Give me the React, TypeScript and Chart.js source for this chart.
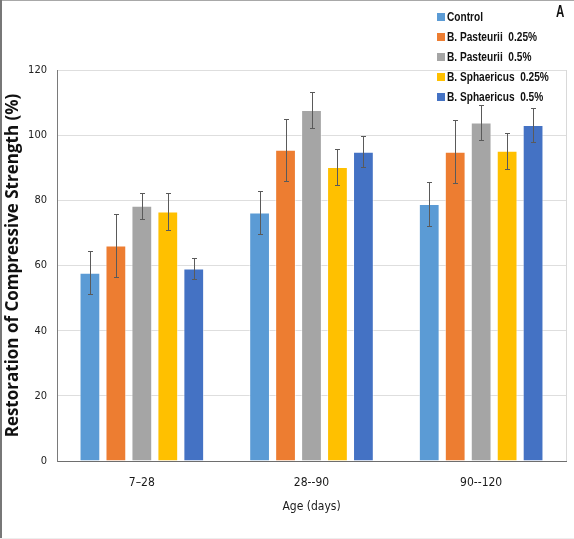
import React, { useEffect, useRef } from "react";
import { Chart, registerables } from "chart.js";

Chart.register(...registerables);

const categories = ["7–28", "28--90", "90--120"];
const seriesNames = [
  "Control",
  "B. Pasteurii  0.25%",
  "B. Pasteurii  0.5%",
  "B. Sphaericus  0.25%",
  "B. Sphaericus  0.5%",
];
const seriesColors = ["#5B9BD5", "#ED7D31", "#A5A5A5", "#FFC000", "#4472C4"];

const controlValues = [57.8, 76.3, 78.9];
const pasteurii025Values = [66.1, 95.5, 94.9];
const pasteurii05Values = [78.3, 107.7, 103.9];
const sphaericus025Values = [76.6, 90.2, 95.2];
const sphaericus05Values = [59.1, 94.9, 103.1];

const controlErrors = [6.6, 6.7, 6.7];
const pasteurii025Errors = [9.7, 9.6, 9.7];
const pasteurii05Errors = [4.0, 5.4, 5.3];
const sphaericus025Errors = [5.6, 5.6, 5.6];
const sphaericus05Errors = [3.1, 4.8, 5.1];

const yTicks = [0, 20, 40, 60, 80, 100, 120];
const yTitle = "Restoration of Compressive Strength (%)";
const xTitle = "Age (days)";
const panelLabel = "A";

const allValues = [
  controlValues,
  pasteurii025Values,
  pasteurii05Values,
  sphaericus025Values,
  sphaericus05Values,
];
const allErrors = [
  controlErrors,
  pasteurii025Errors,
  pasteurii05Errors,
  sphaericus025Errors,
  sphaericus05Errors,
];

const narrow = '"DejaVu Sans Condensed", "DejaVu Sans", sans-serif';

const errorBarPlugin = {
  id: "errorBars",
  afterDatasetsDraw(chart: any) {
    const ctx = chart.ctx;
    const yScale = chart.scales.y;
    ctx.save();
    ctx.strokeStyle = "#5a5a5a";
    ctx.lineWidth = 1;
    chart.data.datasets.forEach((ds: any, di: number) => {
      const meta = chart.getDatasetMeta(di);
      meta.data.forEach((bar: any, i: number) => {
        const v = ds.data[i];
        const e = ds.errors[i];
        const x = Math.round(bar.x) + 0.5;
        const yTop = Math.round(yScale.getPixelForValue(v + e)) + 0.5;
        const yBot = Math.round(yScale.getPixelForValue(v - e)) + 0.5;
        ctx.beginPath();
        ctx.moveTo(x, yTop);
        ctx.lineTo(x, yBot);
        ctx.moveTo(x - 2.5, yTop);
        ctx.lineTo(x + 2.5, yTop);
        ctx.moveTo(x - 2.5, yBot);
        ctx.lineTo(x + 2.5, yBot);
        ctx.stroke();
      });
    });
    ctx.restore();
  },
};

const frameLinePlugin = {
  id: "frameLine",
  beforeDatasetsDraw(chart: any) {
    const { ctx, chartArea } = chart;
    ctx.save();
    ctx.strokeStyle = "#d9d9d9";
    ctx.lineWidth = 1;
    ctx.beginPath();
    const x = Math.round(chartArea.right) + 0.5;
    ctx.moveTo(x, chartArea.top);
    ctx.lineTo(x, chartArea.bottom);
    ctx.stroke();
    ctx.restore();
  },
};

export default function App() {
  const canvasRef = useRef<HTMLCanvasElement | null>(null);

  useEffect(() => {
    if (!canvasRef.current) return;
    const chart = new Chart(canvasRef.current, {
      type: "bar",
      data: {
        labels: categories,
        datasets: seriesNames.map((name, i) => ({
          label: name,
          data: allValues[i],
          errors: allErrors[i],
          backgroundColor: seriesColors[i],
          borderColor: "rgba(255,255,255,0.5)",
          borderWidth: 1,
          categoryPercentage: 0.765,
          barPercentage: 0.8,
        })) as any,
      },
      options: {
        responsive: false,
        animation: false,
        layout: { padding: { top: 70, right: 8, left: 0, bottom: 0 } },
        plugins: {
          legend: { display: false },
          tooltip: { enabled: false },
        },
        scales: {
          x: {
            grid: { display: false, drawTicks: false },
            border: { display: true, color: "#6e6e6e", width: 1 },
            ticks: {
              padding: 15,
              color: "#1a1a1a",
              font: { family: narrow, size: 12 },
            },
            title: {
              display: true,
              text: xTitle,
              color: "#1a1a1a",
              font: { family: narrow, size: 12 },
              padding: { top: 0, bottom: 25 },
            },
            afterFit: (scale: any) => {
              scale.height = 78;
            },
          },
          y: {
            min: 0,
            max: 120,
            afterBuildTicks: (scale: any) => {
              scale.ticks = yTicks.map((v) => ({ value: v }));
            },
            grid: { color: "#dedede", lineWidth: 1, drawTicks: false },
            border: { display: true, color: "#7a7a7a", width: 1 },
            ticks: {
              padding: 10,
              color: "#222",
              font: { family: narrow, size: 11 },
            },
            title: {
              display: true,
              text: yTitle,
              color: "#111",
              font: { family: '"Open Sans", sans-serif', size: 17, weight: "bold" },
              padding: { top: 3, bottom: 0 },
            },
            afterFit: (scale: any) => {
              scale.width = 57;
            },
          },
        },
      } as any,
      plugins: [frameLinePlugin, errorBarPlugin],
    });
    return () => chart.destroy();
  }, []);

  const legendTops = [16.7, 37.2, 57.3, 77.3, 96.7];

  return (
    <div
      style={{
        position: "fixed",
        left: 0,
        top: 0,
        width: 574,
        height: 539,
        background: "#fff",
        overflow: "hidden",
      }}
    >
      <canvas
        ref={canvasRef}
        width={574}
        height={539}
        style={{ position: "absolute", left: 0, top: 0, width: 574, height: 539 }}
      />
      {seriesNames.map((name, i) => (
        <div
          key={name}
          style={{
            position: "absolute",
            left: 437,
            top: legendTops[i] - 8,
            height: 16,
            display: "flex",
            alignItems: "center",
            whiteSpace: "pre",
          }}
        >
          <span
            style={{
              display: "inline-block",
              width: 8,
              height: 8,
              background: seriesColors[i],
              marginRight: 2,
            }}
          />
          <span
            style={{
              display: "inline-block",
              fontFamily: '"Liberation Sans", Arial, sans-serif',
              fontWeight: "bold",
              fontSize: 13.5,
              lineHeight: "16px",
              color: "#111",
              transform: "scaleX(0.75)",
              transformOrigin: "left center",
            }}
          >
            {name}
          </span>
        </div>
      ))}
      <div
        style={{
          position: "absolute",
          left: 556,
          top: 3,
          fontFamily: '"Liberation Sans", Arial, sans-serif',
          fontWeight: "bold",
          fontSize: 16,
          lineHeight: "18px",
          color: "#111",
          transform: "scaleX(0.72)",
          transformOrigin: "left center",
        }}
      >
        {panelLabel}
      </div>
      <div style={{ position: "absolute", left: 0, top: 0, width: 574, height: 1, background: "#a8a8a8" }} />
      <div style={{ position: "absolute", left: 0, top: 0, width: 2, height: 539, background: "#777" }} />
      <div style={{ position: "absolute", left: 0, top: 538, width: 574, height: 1, background: "#eeeeee" }} />
    </div>
  );
}
